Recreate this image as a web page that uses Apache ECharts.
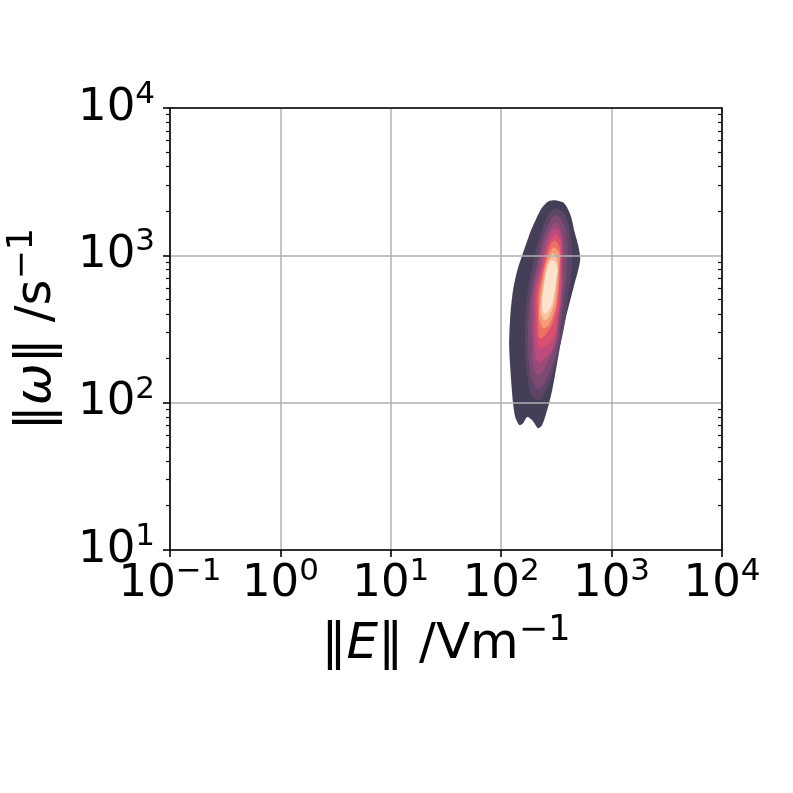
<!DOCTYPE html>
<html><head><meta charset="utf-8">
<script src="https://cdn.jsdelivr.net/npm/echarts@6/dist/echarts.min.js"></script>
<style>html,body{margin:0;padding:0;background:#fff}#c{width:793px;height:793px}</style>
</head><body><div id="c"></div>
<script>
// ---- tick values ----
const xTickValues = [0.1, 1, 10, 100, 1000, 10000];
const yTickValues = [10, 100, 1000, 10000];
const yMinorTickValues = [20,30,40,50,60,70,80,90,200,300,400,500,600,700,800,900,2000,3000,4000,5000,6000,7000,8000,9000];
const xAxisTitle = '{n|\u2016}{i|E}{n|\u2016 /Vm}{s|\u22121}';
const yAxisTitle = '{n|\u2016}{i|\u03c9}{n|\u2016 /s}{s|\u22121}';

// ---- KDE contour outlines: [‖E‖ (V/m), ‖ω‖ (1/s)] ----
const contourL1 = [[315,2360],[364,2290],[396,2110],[431,1810],[458,1480],[498,1170],[520,955],[498,791],[458,627],[422,495],[380,362],[349,265],[321,185],[290,122],[261,89],[235,70.4],[216,67.1],[191,76.1],[172,79.8],[158,72.6],[146,70.4],[134,79.8],[128,99.3],[123,142],[118,245],[121,392],[128,579],[140,791],[155,1000],[183,1430],[208,1780],[235,2110],[267,2320]];
const contourL2 = [[308,2080],[357,1990],[396,1730],[431,1260],[440,897],[405,535],[380,362],[342,245],[296,161],[250,118],[221,104],[191,112],[172,153],[165,245],[165,362],[172,535],[195,897],[221,1300],[261,1810]];
const contourL3 = [[308,1870],[349,1750],[388,1430],[396,897],[372,535],[349,362],[328,245],[284,171],[225,125],[191,142],[179,194],[176,245],[176,362],[183,535],[212,897],[235,1260],[272,1670]];
const contourL4 = [[308,1670],[342,1550],[364,1260],[364,897],[357,535],[335,362],[308,245],[256,180],[216,153],[195,180],[191,245],[187,362],[191,535],[221,897],[245,1220],[278,1520]];
const contourL5 = [[308,1520],[342,1390],[356,1150],[356,897],[349,535],[328,362],[302,245],[250,200],[221,188],[203,220],[199,287],[199,392],[199,535],[235,897],[256,1170],[278,1410]];
const contourL6 = [[315,1390],[342,1260],[349,1080],[349,897],[342,535],[321,362],[296,274],[230,234],[212,265],[208,362],[208,535],[240,897],[261,1110],[284,1300]];
const contourL7 = [[308,1260],[335,1150],[342,897],[328,535],[302,374],[258,296],[225,274],[216,320],[216,424],[216,535],[250,897],[267,1080],[284,1210]];
const contourL8 = [[302,1130],[335,1030],[335,856],[322,535],[296,392],[250,320],[225,352],[221,458],[240,732],[261,955],[284,1080]];
const contourL9 = [[296,1030],[322,925],[322,767],[309,535],[284,411],[250,362],[230,398],[230,495],[240,627],[256,817],[278,969]];
const contourL10 = [[290,925],[322,829],[315,677],[296,511],[272,424],[245,405],[235,458],[240,561],[250,698],[267,856]];
const contourLevels = [contourL1, contourL2, contourL3, contourL4, contourL5, contourL6, contourL7, contourL8, contourL9, contourL10];
const levelColors = ['#443f57','#5d4568','#7a4a72','#9a4b7a','#bb4c7b','#d9516f','#ee7063','#f49a77','#f8c19f','#fce3d0'];

const FONT = 'DejaVu Sans';
const supLabel = v => {
  const e = Math.round(Math.log10(v));
  return '{b|10}{s|' + (e < 0 ? '\u2212' + (-e) : String(e)) + '}';
};
const labelRich = {
  b: {fontSize: 45, fontFamily: FONT, color: '#000', padding: [6, 0, 6, 0]},
  s: {fontSize: 31, fontFamily: FONT, color: '#000', verticalAlign: 'top'}
};
const nameRich = {
  n: {fontSize: 50, fontFamily: FONT, color: '#000', padding: [7, 0, 7, 0]},
  i: {fontSize: 50, fontFamily: FONT, fontStyle: 'italic', color: '#000', padding: [7, 0, 7, 0]},
  s: {fontSize: 35, fontFamily: FONT, color: '#000', verticalAlign: 'top'}
};
const axisLineStyle = {color: '#000', width: 1.6};
const gridLineStyle = {color: '#b0b0b0', width: 1.5};

const chart = echarts.init(document.getElementById('c'), null, {renderer: 'canvas'});
chart.setOption({
  animation: false,
  backgroundColor: '#fff',
  grid: {left: 170, right: 71, top: 108, bottom: 243, containLabel: false, outerBoundsMode: 'none'},
  xAxis: [
    {
      type: 'log', logBase: 10, min: 0.1, max: 10000, position: 'bottom', z: 3,
      axisLine: {show: true, onZero: false, lineStyle: axisLineStyle},
      axisTick: {show: true, length: 7, lineStyle: axisLineStyle, customValues: xTickValues},
      minorTick: {show: false},
      splitLine: {show: true, lineStyle: gridLineStyle},
      axisLabel: {formatter: supLabel, rich: labelRich, margin: 6, customValues: xTickValues, hideOverlap: false},
      name: xAxisTitle, nameLocation: 'middle', nameGap: 63,
      nameTextStyle: {rich: nameRich}
    },
    {
      type: 'log', logBase: 10, min: 0.1, max: 10000, position: 'top', z: 3,
      axisLine: {show: true, onZero: false, lineStyle: axisLineStyle},
      axisTick: {show: false}, axisLabel: {show: false}, splitLine: {show: false}
    }
  ],
  yAxis: [
    {
      type: 'log', logBase: 10, min: 10, max: 10000, position: 'left', z: 3,
      axisLine: {show: true, onZero: false, lineStyle: axisLineStyle},
      axisTick: {show: true, length: 7, lineStyle: axisLineStyle, customValues: yTickValues},
      minorTick: {show: false},
      splitLine: {show: true, lineStyle: gridLineStyle},
      axisLabel: {formatter: supLabel, rich: labelRich, margin: 15, customValues: yTickValues, hideOverlap: false},
      name: yAxisTitle, nameLocation: 'middle', nameGap: 101, nameRotate: 90,
      nameTextStyle: {rich: nameRich}
    },
    {
      type: 'log', logBase: 10, min: 10, max: 10000, position: 'right', z: 3,
      axisLine: {show: true, onZero: false, lineStyle: axisLineStyle},
      axisTick: {show: true, inside: true, length: 4, lineStyle: {color: '#000', width: 1.2}, customValues: yMinorTickValues},
      axisLabel: {show: false}, splitLine: {show: false}
    },
    {
      type: 'log', logBase: 10, min: 10, max: 10000, position: 'left', z: 3,
      axisLine: {show: false},
      axisTick: {show: true, length: 4, lineStyle: {color: '#000', width: 1.2}, customValues: yMinorTickValues},
      axisLabel: {show: false}, splitLine: {show: false}
    }
  ],
  series: [{
    type: 'custom',
    coordinateSystem: 'cartesian2d',
    xAxisIndex: 0, yAxisIndex: 0,
    silent: true,
    z: 1,
    data: contourLevels.map((pts, i) => [pts[0][0], pts[0][1], i]),
    encode: {x: 0, y: 1},
    renderItem: (params, api) => {
      const i = api.value(2);
      const pts = contourLevels[i].map(p => api.coord(p));
      return {
        type: 'polygon',
        shape: {points: pts, smooth: i === 0 ? 0.25 : 0.45},
        style: {fill: levelColors[i]},
        z2: i
      };
    }
  }]
});
</script>
</body></html>
